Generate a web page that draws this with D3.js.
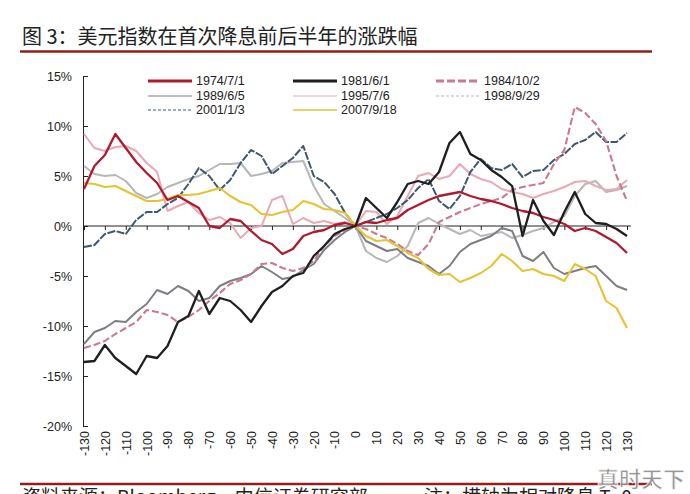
<!DOCTYPE html>
<html><head><meta charset="utf-8">
<script src="https://cdn.jsdelivr.net/npm/d3@7"></script>
<style>
body{margin:0;background:#fff;}
svg{display:block;font-family:"Liberation Sans",Arial,sans-serif;}
</style>
</head><body>
<svg id="chart" width="690" height="494"></svg>
<script>
// ---------- data ----------
const days = [-130,-125,-120,-115,-110,-105,-100,-95,-90,-85,-80,-75,-70,-65,-60,-55,-50,-45,-40,-35,-30,-25,-20,-15,-10,-5,0,5,10,15,20,25,30,35,40,45,50,55,60,65,70,75,80,85,90,95,100,105,110,115,120,125,130];
const xTicks = [-130,-120,-110,-100,-90,-80,-70,-60,-50,-40,-30,-20,-10,0,10,20,30,40,50,60,70,80,90,100,110,120,130];
const yTicks = [-20,-15,-10,-5,0,5,10,15];
const seriesNames = ["1974/7/1","1981/6/1","1984/10/2","1989/6/5","1995/7/6","1998/9/29","2001/1/3","2007/9/18"];

const v1974 = [3.7,6.0,7.1,9.2,7.8,6.4,5.3,4.3,2.6,3.0,2.4,1.8,0.0,-0.2,0.7,0.5,-0.5,-1.4,-1.8,-2.8,-2.3,-1.0,-0.6,-0.4,0.1,0.3,0,
  0.4,0.3,0.6,0.8,1.6,2.1,2.6,3.0,3.2,3.4,3.0,2.7,2.5,2.2,1.8,1.5,1.3,0.9,0.6,0.2,-0.5,-0.2,-0.5,-1.1,-1.7,-2.7];
const v1981 = [-13.6,-13.5,-11.9,-13.2,-14.0,-14.8,-13.0,-13.2,-12.0,-9.6,-9.0,-6.5,-8.8,-7.2,-7.5,-8.4,-9.6,-8.0,-6.6,-6.0,-5.0,-4.7,-3.0,-2.0,-0.8,-0.3,0,
  2.8,1.8,0.8,2.4,4.2,4.5,4.2,5.4,8.3,9.4,7.2,6.6,5.6,4.9,4.0,-1.0,2.6,0.5,-0.9,1.4,3.4,1.2,0.3,0.2,-0.3,-1.0];
const v1984 = [-12.2,-11.9,-11.5,-10.8,-10.2,-9.6,-8.4,-8.6,-8.9,-9.6,-9.1,-8.4,-7.5,-6.7,-5.8,-5.4,-4.8,-3.8,-3.7,-4.2,-4.5,-4.2,-3.5,-2.0,-1.0,-0.4,0,
  -0.3,-0.8,-1.2,-1.8,-2.5,-2.9,-1.8,0.4,0.9,1.4,1.8,2.2,2.5,2.8,3.6,3.9,4.1,4.3,6.2,7.6,11.9,11.3,10.2,8.5,5.0,2.5];
const v1989 = [-11.8,-10.6,-10.2,-9.5,-9.6,-8.6,-7.8,-6.4,-6.8,-6.0,-6.5,-7.5,-7.2,-6.0,-5.5,-5.2,-4.8,-4.0,-4.6,-5.3,-5.1,-4.4,-3.8,-2.4,-1.4,-0.6,0,
  -1.5,-2.0,-2.5,-2.3,-3.2,-3.6,-4.0,-4.8,-4.0,-2.6,-1.8,-1.4,-1.0,-0.2,-0.5,-3.0,-3.5,-2.6,-4.2,-4.8,-4.5,-4.2,-4.0,-5.0,-6.0,-6.4];
const v1995 = [9.2,7.8,7.5,7.9,8.0,7.5,6.3,5.4,1.5,2.0,2.4,1.3,0.6,0.9,0.3,-1.2,-0.2,0.0,2.6,3.0,0.2,0.8,0.3,0.5,0.2,0.4,0,
  1.5,1.4,0.2,1.0,3.0,5.0,5.3,4.7,5.0,6.2,5.2,4.7,4.4,3.7,3.4,3.2,2.8,3.2,3.5,3.9,4.4,4.5,4.0,3.6,3.7,4.6];
const v1998 = [6.0,5.2,5.0,5.1,4.5,3.3,2.8,3.2,3.9,4.3,4.7,5.0,5.6,6.2,6.2,6.3,5.0,5.2,5.5,6.3,6.4,6.5,4.0,2.2,1.5,0.8,0,
  -2.5,-3.2,-3.6,-3.0,-2.0,0.3,0.8,0.2,-0.3,-0.8,-0.4,-1.0,-0.8,-0.6,-1.2,-0.9,-0.5,-0.2,0.4,1.0,3.0,4.2,4.5,3.4,3.6,4.0];
const v2001 = [-2.1,-1.9,-0.8,-0.5,-0.8,0.6,1.4,1.4,2.2,2.8,4.2,5.8,5.0,3.6,4.6,6.3,7.6,7.0,5.2,6.0,6.8,8.0,5.0,4.4,3.2,1.3,0,
  0.4,0.8,1.2,1.8,2.6,3.8,4.7,2.5,1.7,3.0,5.4,6.7,5.8,5.6,6.2,4.9,5.5,5.6,6.6,7.2,8.2,8.6,9.4,8.4,8.4,9.3];
const v2007 = [4.3,4.2,3.9,4.0,3.5,3.0,2.5,2.5,2.7,3.1,3.1,3.2,3.5,3.8,3.0,2.4,2.1,1.2,1.1,1.4,1.6,2.5,2.2,1.7,1.6,1.3,0,
  -1.0,-1.5,-1.4,-2.0,-2.7,-3.2,-4.3,-4.9,-4.8,-5.6,-5.2,-4.7,-4.0,-2.8,-3.5,-4.5,-4.3,-4.8,-5.0,-5.5,-3.8,-4.3,-5.0,-7.5,-8.2,-10.2];

const titleText = "图 3：美元指数在首次降息前后半年的涨跌幅";
const sourceText = "资料来源：Bloomberg，中信证券研究部";
const noteText = "注：横轴为相对降息 T=0";
const watermark = "真时天下";

// ---------- styles ----------
const values = [v1974, v1981, v1984, v1989, v1995, v1998, v2001, v2007];
const styles = [
  {color:"#b01a2e", w:2.3, dash:null, lw:3, ldash:null},
  {color:"#1f1f1f", w:2.3, dash:null, lw:3, ldash:null},
  {color:"#c97a8f", w:2.1, dash:"7,3", lw:3, ldash:"8,3"},
  {color:"#7b7e84", w:2.0, dash:null, lw:1, ldash:null},
  {color:"#e8a9b7", w:2.0, dash:null, lw:1, ldash:null},
  {color:"#b7b7b9", w:2.0, dash:null, lw:1, ldash:"3,2"},
  {color:"#3e5871", w:2.0, dash:"8,1.5", lw:1, ldash:"3,2"},
  {color:"#e6c333", w:2.1, dash:null, lw:1.5, ldash:null}
];
const drawOrder = [5,4,3,6,2,7,0,1];

// ---------- chart ----------
const svg = d3.select("#chart");
const x = d3.scaleLinear().domain([-130,130]).range([84,627]);
const y = d3.scaleLinear().domain([-20,15]).range([426,76]);

// title
svg.append("text").attr("x",22).attr("y",44)
  .style("font-family","'Noto Sans CJK SC',sans-serif").style("font-size","20px").attr("fill","#222")
  .text(titleText);
svg.append("line").attr("x1",20).attr("x2",652).attr("y1",51.5).attr("y2",51.5)
  .attr("stroke","#8e2020").attr("stroke-width",2.5);

// y axis
const yAx = svg.append("g").attr("transform","translate(83,0)")
  .call(d3.axisLeft(y).tickValues(yTicks).tickFormat(d=>d+"%").tickSize(-5).tickSizeOuter(0).tickPadding(11));
yAx.select(".domain").attr("stroke","#222");
yAx.selectAll(".tick line").attr("stroke","#222");
yAx.selectAll("text").style("font-size","12.5px").attr("fill","#222");

// zero axis with ticks
const zAx = svg.append("g").attr("transform",`translate(0,${y(0)})`)
  .call(d3.axisBottom(x).tickValues(xTicks).tickFormat("").tickSize(4).tickSizeOuter(0));
zAx.select(".domain").attr("stroke","#222").attr("d",`M83,0H631`);
zAx.selectAll(".tick line").attr("stroke","#222");

// bottom rotated labels
const bAx = svg.append("g").attr("transform","translate(0,431)")
  .call(d3.axisBottom(x).tickValues(xTicks).tickFormat(d=>String(d)).tickSize(0));
bAx.select(".domain").remove();
bAx.selectAll("text").attr("x",0).attr("y",0).attr("dy","0.35em")
  .attr("transform","rotate(-90)").attr("text-anchor","end")
  .style("font-size","12.5px").attr("fill","#222");

// lines
const line = d3.line().x((d,i)=>x(days[i])).y(d=>y(d));
drawOrder.forEach(k=>{
  const s = styles[k];
  svg.append("path").datum(values[k])
    .attr("d",line).attr("fill","none")
    .attr("stroke",s.color).attr("stroke-width",s.w)
    .attr("stroke-linejoin","round")
    .attr("stroke-dasharray",s.dash);
});

// legend
const colX = [148,293,436], rowY = [81,96,110];
seriesNames.forEach((n,i)=>{
  const cx = colX[i%3], cy = rowY[Math.floor(i/3)], s = styles[i];
  svg.append("line").attr("x1",cx).attr("x2",cx+44).attr("y1",cy).attr("y2",cy)
    .attr("stroke",s.color).attr("stroke-width",s.lw).attr("stroke-dasharray",s.ldash);
  svg.append("text").attr("x",cx+48).attr("y",cy).attr("dy","0.35em")
    .style("font-size","12.5px").attr("fill","#222").text(n);
});

// bottom rule + source
svg.append("line").attr("x1",20).attr("x2",652).attr("y1",484).attr("y2",484)
  .attr("stroke","#8e2020").attr("stroke-width",2.5);
svg.append("text").attr("x",22).attr("y",504)
  .style("font-family","'Noto Sans CJK SC',sans-serif").style("font-size","19px").attr("fill","#222")
  .text(sourceText);
svg.append("text").attr("x",424).attr("y",504)
  .style("font-family","'Noto Sans CJK SC',sans-serif").style("font-size","19px").attr("fill","#222")
  .text(noteText);
svg.append("text").attr("x",597).attr("y",487)
  .style("font-family","'Noto Sans CJK SC',sans-serif").style("font-size","22px").style("font-weight","bold")
  .attr("fill","#8c8c8c").attr("stroke","#ffffff").attr("stroke-width",0.8).attr("opacity",0.9)
  .text(watermark);
</script>
</body></html>
